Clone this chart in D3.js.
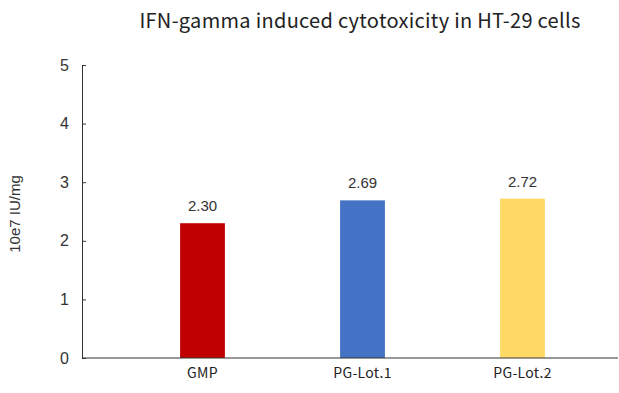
<!DOCTYPE html>
<html>
<head>
<meta charset="utf-8">
<script src="https://cdn.jsdelivr.net/npm/d3@7"></script>
<style>
  body { margin: 0; background: #fff; }
  svg { display: block; }
</style>
</head>
<body>
<div id="chart"></div>
<script>
const categories = ["GMP", "PG-Lot.1", "PG-Lot.2"];
const values = [2.30, 2.69, 2.72];
const colors = ["#C00000", "#4472C4", "#FFD966"];
const yTicks = [0, 1, 2, 3, 4, 5];

const width = 619, height = 393;
const axisLeftX = 82, axisRightX = 618;
const y0 = 358, yTop = 65;

var svg = d3.select("#chart")
    .append("svg")
    .attr("width", width)
    .attr("height", height);

var x = d3.scaleBand()
    .domain(categories)
    .range([122.5, 602.5])
    .paddingInner(0.72)
    .paddingOuter(0.36);

var y = d3.scaleLinear()
    .domain([0, 5])
    .range([y0, yTop]);

// title
svg.append("text")
    .attr("x", 360)
    .attr("y", 28)
    .attr("text-anchor", "middle")
    .style("font-family", "'Noto Sans CJK SC', 'Noto Sans', sans-serif")
    .style("font-size", "20px")
    .style("letter-spacing", "0.3px")
    .style("fill", "#222")
    .text("IFN-gamma induced cytotoxicity in HT-29 cells");

// y axis, ticks point inward
var yAxis = svg.append("g")
    .attr("transform", "translate(" + axisLeftX + ",0)")
    .call(d3.axisLeft(y).tickValues(yTicks).tickFormat(d3.format("d"))
        .tickSize(-4).tickSizeOuter(0).tickPadding(13));
yAxis.select(".domain").attr("stroke", "#333");
yAxis.selectAll(".tick line").attr("stroke", "#333");
yAxis.selectAll(".tick text")
    .style("font-family", "'Liberation Sans', Arial, sans-serif")
    .style("font-size", "16px")
    .style("fill", "#333");

// y label
svg.append("text")
    .attr("transform", "translate(20,214) rotate(-90)")
    .attr("text-anchor", "middle")
    .style("font-family", "'Liberation Sans', Arial, sans-serif")
    .style("font-size", "15px")
    .style("fill", "#333")
    .text("10e7 IU/mg");

// bars
svg.selectAll(".bar")
    .data(values)
    .enter().append("rect")
    .attr("class", "bar")
    .attr("x", (d, i) => x(categories[i]))
    .attr("width", x.bandwidth())
    .attr("y", d => y(d))
    .attr("height", d => y(0) - y(d))
    .attr("fill", (d, i) => colors[i]);

// value labels
svg.selectAll(".val")
    .data(values)
    .enter().append("text")
    .attr("class", "val")
    .attr("x", (d, i) => x(categories[i]) + x.bandwidth() / 2)
    .attr("y", d => y(d) - 12)
    .attr("text-anchor", "middle")
    .style("font-family", "'Liberation Sans', Arial, sans-serif")
    .style("font-size", "15px")
    .style("fill", "#333")
    .text(d => d3.format(".2f")(d));

// x axis
var xAxis = svg.append("g")
    .attr("transform", "translate(0," + y0 + ")")
    .call(d3.axisBottom(x).tickSize(0).tickPadding(10));
xAxis.select(".domain").remove();
xAxis.selectAll(".tick text")
    .style("font-family", "'Noto Sans CJK SC', 'Noto Sans', sans-serif")
    .style("font-size", "14px")
    .style("letter-spacing", "0.3px")
    .style("fill", "#222");
svg.append("line")
    .attr("x1", axisLeftX).attr("x2", axisRightX)
    .attr("y1", y0).attr("y2", y0)
    .attr("stroke", "#333");
</script>
</body>
</html>
